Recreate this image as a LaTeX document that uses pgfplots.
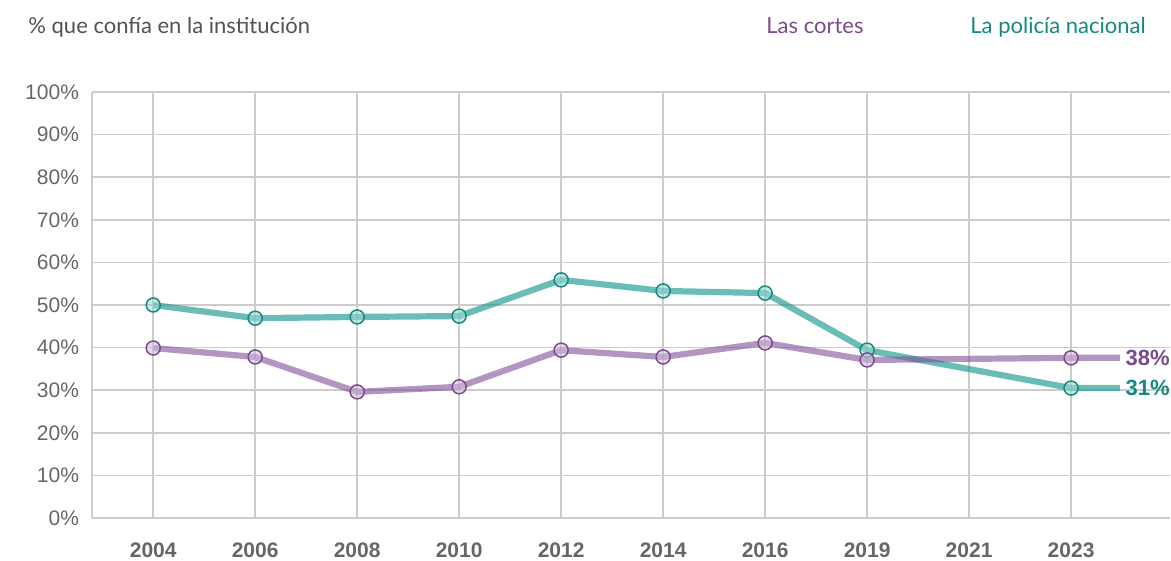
\documentclass[border=0pt]{standalone}
\usepackage{pgfplots}
\pgfplotsset{compat=1.18}
\usepackage{fontspec}
\setmainfont{Liberation Sans}
\newfontfamily\titlefont{Lato}
\definecolor{tealc}{HTML}{1A9A90}
\definecolor{teald}{HTML}{138A80}
\definecolor{purc}{HTML}{7F4F96}
\definecolor{purd}{HTML}{7B4A8C}
\definecolor{gridc}{HTML}{CCCCCC}
\definecolor{tickc}{HTML}{666666}
\begin{document}
\begin{tikzpicture}
\useasboundingbox (-46pt,-21.5pt) rectangle (539.5pt,259pt);
\begin{axis}[
  scale only axis,
  width=539pt, height=213pt,
  xmin=-0.6, xmax=9.97,
  ymin=0, ymax=100,
  axis x line*=bottom,
  axis y line*=left,
  axis line style={gridc, line width=0.75pt},
  xtick={0,1,2,3,4,5,6,7,8,9},
  xticklabels={2004,2006,2008,2010,2012,2014,2016,2019,2021,2023},
  ytick={0,10,...,100},
  yticklabel={\pgfmathprintnumber{\tick}\%},
  /pgf/number format/assume math mode=true,
  major tick length=0pt,
  grid=major,
  major grid style={gridc, line width=0.75pt},
  xticklabel style={font=\bfseries\fontsize{10.5}{12}\selectfont, text=tickc, yshift=-9pt},
  yticklabel style={font=\fontsize{10.5}{12}\selectfont, text=tickc, xshift=-3pt},
  clip=false,
]
\addplot[tealc, opacity=0.65, line width=3.1pt, mark=*, mark indices={1,...,9}, mark size=3.5pt,
  mark options={draw=teald, fill=tealc!40, fill opacity=0.55, draw opacity=1, line width=0.75pt}]
  coordinates {(0,50.0) (1,46.9) (2,47.2) (3,47.4) (4,55.9) (5,53.3) (6,52.8) (7,39.4) (9,30.5) (9.48,30.5)};
\addplot[purc, opacity=0.6, line width=3.1pt, mark=*, mark indices={1,...,9}, mark size=3.5pt,
  mark options={draw=purd, fill=purc!35, fill opacity=0.55, draw opacity=1, line width=0.75pt}]
  coordinates {(0,39.9) (1,37.8) (2,29.6) (3,30.8) (4,39.4) (5,37.8) (6,41.1) (7,37.1) (9,37.6) (9.48,37.6)};
\node[anchor=west, inner sep=0pt, text=purd, font=\bfseries\fontsize{11}{12}\selectfont] at (axis cs:9.53,37.6) {38\%};
\node[anchor=west, inner sep=0pt, text=teald, font=\bfseries\fontsize{11}{12}\selectfont] at (axis cs:9.53,30.5) {31\%};
\end{axis}
\node[anchor=base west, inner sep=0pt, text=black!68, font=\titlefont\fontsize{11}{13}\selectfont] at (-32pt,242pt) {\% que confía en la institución};
\node[anchor=base west, inner sep=0pt, text=purd, font=\titlefont\fontsize{11}{13}\selectfont] at (337pt,242pt) {Las cortes};
\node[anchor=base west, inner sep=0pt, text=teald, font=\titlefont\fontsize{11}{13}\selectfont] at (439pt,242pt) {La policía nacional};
\end{tikzpicture}
\end{document}
